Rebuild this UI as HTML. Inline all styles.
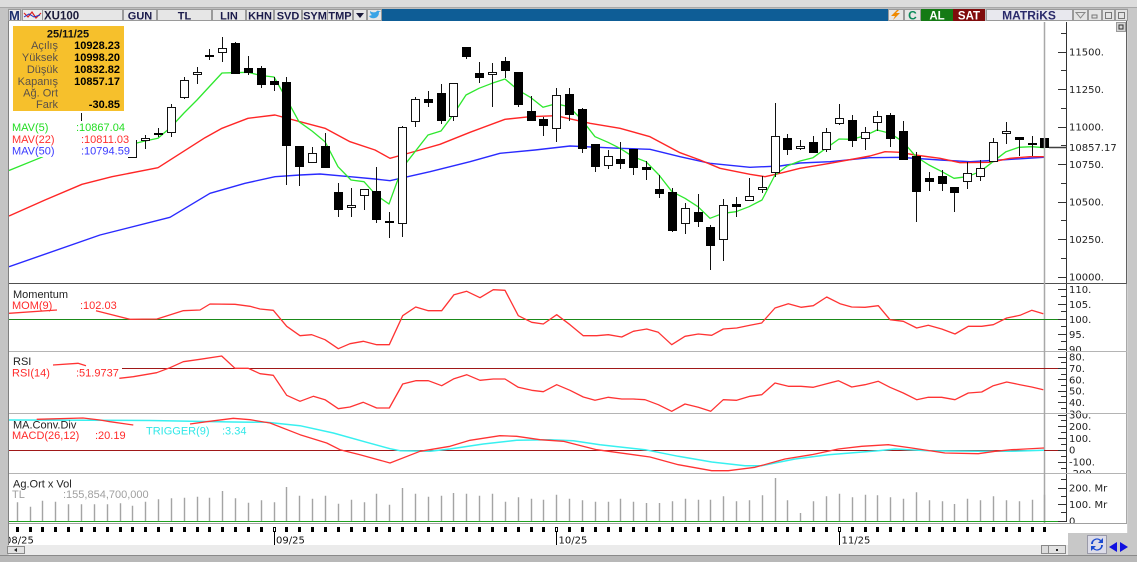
<!DOCTYPE html>
<html><head><meta charset="utf-8"><style>
html,body{margin:0;padding:0;width:1137px;height:562px;overflow:hidden;background:#d3d3d3}
svg{display:block}
</style></head><body>
<svg width="1137" height="562" viewBox="0 0 1137 562" xmlns="http://www.w3.org/2000/svg" font-family="'Liberation Sans', sans-serif">
<defs>
<clipPath id="cMain"><rect x="9" y="22" width="1041" height="261"/></clipPath>
<clipPath id="cMom"><rect x="9" y="284" width="1118" height="67"/></clipPath>
<clipPath id="cRsi"><rect x="9" y="352" width="1118" height="61"/></clipPath>
<clipPath id="cMacd"><rect x="9" y="414" width="1118" height="59"/></clipPath>
<clipPath id="cVol"><rect x="9" y="474" width="1118" height="49"/></clipPath>
<clipPath id="cDate"><rect x="9" y="524" width="1118" height="21"/></clipPath>
</defs>

<!-- frame -->
<rect x="0" y="0" width="1137" height="8" fill="#dcdcdc"/>
<line x1="0" y1="7.5" x2="1137" y2="7.5" stroke="#a8a8a8"/>
<rect x="0" y="8" width="8" height="554" fill="#c4c4c4"/>
<rect x="1128" y="8" width="9" height="554" fill="#c8c8c8"/>
<rect x="9" y="21" width="1118" height="524" fill="#ffffff"/>
<line x1="8.5" y1="21" x2="8.5" y2="545" stroke="#808080"/>
<rect x="9" y="545" width="1119" height="10" fill="#ebebeb"/>
<rect x="0" y="555" width="1137" height="7" fill="#b8b8b8"/>
<line x1="0" y1="555.5" x2="1137" y2="555.5" stroke="#8a8a8a"/>
<rect x="1068" y="533" width="60" height="22" fill="#c8c8c8"/>

<!-- toolbar -->
<rect x="8" y="8" width="1120" height="13" fill="#bdbdbd"/>
<rect x="8.5" y="9.5" width="12" height="11" fill="#ececec" stroke="#9a9a9a"/>
<text x="9" y="20" font-size="13" font-weight="bold" fill="#1c2f6e">M</text>
<rect x="22.5" y="9.5" width="20" height="11" fill="#ececec" stroke="#9a9a9a"/>
<polyline points="24,13 28,17 32,12 36,18 41,13" fill="none" stroke="#e02020" stroke-width="1.2"/>
<polyline points="24,17 29,14 34,17 40,15" fill="none" stroke="#2030c0" stroke-width="1"/>
<rect x="42.5" y="9.5" width="80" height="11" fill="#e6e6e6" stroke="#9a9a9a"/>
<text x="44" y="19.5" font-size="11.5" font-weight="bold" fill="#1a1a3a">XU100</text>
<g font-size="11" font-weight="bold" fill="#1b1b4b" text-anchor="middle">
<rect x="123.5" y="9.5" width="33" height="11" fill="#e6e6e6" stroke="#9a9a9a"/><text x="140" y="19.5">GUN</text>
<rect x="157.5" y="9.5" width="54" height="11" fill="#e6e6e6" stroke="#9a9a9a"/><text x="184.5" y="19.5">TL</text>
<rect x="212.5" y="9.5" width="33" height="11" fill="#e6e6e6" stroke="#9a9a9a"/><text x="229" y="19.5">LIN</text>
<rect x="246.5" y="9.5" width="27" height="11" fill="#e6e6e6" stroke="#9a9a9a"/><text x="260" y="19.5">KHN</text>
<rect x="274.5" y="9.5" width="27" height="11" fill="#e6e6e6" stroke="#9a9a9a"/><text x="288" y="19.5">SVD</text>
<rect x="302.5" y="9.5" width="25" height="11" fill="#e6e6e6" stroke="#9a9a9a"/><text x="315" y="19.5">SYM</text>
<rect x="327.5" y="9.5" width="25" height="11" fill="#e6e6e6" stroke="#9a9a9a"/><text x="340" y="19.5">TMP</text>
</g>
<rect x="353.5" y="9.5" width="13" height="11" fill="#e6e6e6" stroke="#9a9a9a"/>
<polygon points="356,13 364,13 360,18" fill="#1a1a3a"/>
<rect x="367.5" y="9.5" width="14" height="11" fill="#e6e6e6" stroke="#9a9a9a"/>
<path d="M369 16 Q371 19 375 18 Q379 17 379 12 L381 11 L379 11 Q377 10 376 12 Q372 13 370 11 Q370 14 372 15 Z" fill="#3aa4e6"/>
<rect x="382" y="9" width="506" height="12" fill="#0e5d96"/>
<rect x="888.5" y="9.5" width="15" height="11" fill="#e6e6e6" stroke="#9a9a9a"/>
<polygon points="897,10 891,16 895,16 893,20 900,13 896,13 899,10" fill="#f08a00"/>
<rect x="904.5" y="9.5" width="16" height="11" fill="#e6e6e6" stroke="#9a9a9a"/>
<text x="912.5" y="19.5" font-size="12" font-weight="bold" fill="#0a8a5a" text-anchor="middle">C</text>
<rect x="921" y="9" width="32" height="12" fill="#157a15"/>
<text x="937" y="19.5" font-size="11.5" font-weight="bold" fill="#ffffff" text-anchor="middle">AL</text>
<rect x="953" y="9" width="32" height="12" fill="#800c0c"/>
<text x="969" y="19.5" font-size="11.5" font-weight="bold" fill="#ffffff" text-anchor="middle">SAT</text>
<rect x="986.5" y="9.5" width="86" height="11" fill="#e8e8ee" stroke="#9a9a9a"/>
<text x="1029" y="19.5" font-size="12" font-weight="bold" fill="#2a2a6a" text-anchor="middle">MATRiKS</text>
<rect x="1073.5" y="9.5" width="14" height="11" fill="#e4e4e4" stroke="#9a9a9a"/>
<polygon points="1076,12.5 1085,12.5 1080.5,18" fill="none" stroke="#888"/>
<rect x="1088.5" y="9.5" width="13" height="11" fill="#e4e4e4" stroke="#9a9a9a"/>
<rect x="1092" y="15" width="5" height="3" fill="none" stroke="#777"/>
<rect x="1102.5" y="9.5" width="12" height="11" fill="#e4e4e4" stroke="#9a9a9a"/>
<rect x="1105.5" y="12.5" width="6" height="6" fill="none" stroke="#777"/>
<rect x="1115.5" y="9.5" width="12" height="11" fill="#e4e4e4" stroke="#9a9a9a"/>
<rect x="1118.5" y="12.5" width="6" height="6" fill="none" stroke="#777"/>

<!-- main panel -->
<g clip-path="url(#cMain)">
<!-- MA lines -->
<polyline fill="none" stroke="#2a2aff" stroke-width="1.4" stroke-linejoin="round" points="9,266.7 100,235 170,217.3 210,193.3 245,183.3 275,176.7 300,175 320,174 350,176.7 375,179 390,180.7 430,171.7 470,161.7 500,153.3 535,150 570,146 620,148.3 650,149.3 680,156.7 710,163.3 750,167.3 780,166 800,163 830,161.7 870,157.7 900,157.3 940,160 970,161.7 1000,160 1044,157.3"/>
<polyline fill="none" stroke="#ff2626" stroke-width="1.4" stroke-linejoin="round" points="9,216 45,200 82,184.3 112,176.7 158,167.7 205,137.7 222,128.3 248,118.3 275,115 300,121.7 325,128.3 350,141.7 375,150 390,158.3 402,155 420,150 440,144.3 470,132.3 505,119.3 530,116.7 556,115.7 590,123.3 620,128.3 650,136.7 680,152.7 700,160 720,168.3 750,174.3 765,176.7 780,173.3 800,168.3 830,163.3 870,156 885,151.7 900,152.3 915,155 940,158.3 960,162.7 990,162.3 1010,158.3 1030,156.7 1044,156.7"/>
<polyline fill="none" stroke="#2ee82e" stroke-width="1.3" points="9,170.5 43,156.7"/>
<polyline fill="none" stroke="#2ee82e" stroke-width="1.3" stroke-linejoin="round" points="136.7,143 145,141 158,138.3 171,127 184,113 197,100 209,87 222,73 248,72.3 261,75.5 274,77 286,98 299,121.7 312,131 325,141.7 338,166.7 351,180 364,181.7 376,195 389,204 402,168.3 415,151.7 428,135 441,131 453,115 466,95 479,88.3 492,83.3 505,79 518,90 531,97.7 543,107.3 556,103.7 569,106.7 582,120 595,136.7 608,142.3 620,148.3 633,156.7 646,161.7 659,175 672,191.7 685,198.3 698,206.7 710,218.3 723,213.3 736,211.7 749,206.7 762,200 775,175 787,166 800,161 813,157.7 826,148.3 839,139 852,139.3 865,135.7 877,130 890,133.3 903,141.7 916,156.7 929,165 942,171.7 954,178.3 967,176.7 980,171.7 993,161.7 1006,151.7 1019,147.3 1032,146.7 1044,147.7"/>
<!-- wicks -->
<path fill="none" stroke="#111" stroke-width="1" d="M145.5 135V149M158.5 128V137M171.5 104V137M184.5 77V99M197.5 67V84M209.5 49V60M222.5 37V62M235.5 42V74M248.5 56V75M261.5 66V88M274.5 77V91M286.5 77V185M299.5 146V186M312.5 147V163M325.5 133V168M338.5 183V217M351.5 188V217M364.5 189V210M376.5 167V223M389.5 212V238M402.5 126V237M415.5 97V127M428.5 91V107M441.5 84V124M453.5 83V121M466.5 47V59M479.5 62V83M492.5 63V107M505.5 57V78M518.5 72V107M531.5 96V121M543.5 117V136M556.5 88V142M569.5 88V121M582.5 108V153M595.5 144V172M608.5 150V169M620.5 142V169M633.5 149V175M646.5 161V180M659.5 175V198M672.5 188V232M685.5 203V234M698.5 194V227M710.5 225V270M723.5 199V261M736.5 197V217M749.5 178V201M762.5 176V193M775.5 103V177M787.5 134V155M800.5 140V150M813.5 136V153M826.5 128V152M839.5 104V125M852.5 115V147M865.5 127V150M877.5 111V131M890.5 113V147M903.5 121V160M916.5 152V222M929.5 172V191M942.5 170V191M954.5 187V212M967.5 162V189M980.5 160V181M993.5 138V162M1006.5 122V144M1019.5 137V156M1032.5 136V156M1044.5 127V152M81.5 113V122"/>
<!-- black bodies -->
<path fill="#000" d="M231 43h9v31h-9zM244 68h9v5h-9zM257 68h9v17h-9zM270 81h9v4h-9zM282 82h9v64h-9zM295 146h9v21h-9zM321 146h9v22h-9zM334 192h9v18h-9zM372 191h9v29h-9zM424 99h9v4h-9zM437 93h9v28h-9zM462 47h9v10h-9zM475 73h9v5h-9zM501 61h9v10h-9zM514 72h9v33h-9zM527 111h9v10h-9zM539 119h9v7h-9zM565 94h9v21h-9zM578 109h9v40h-9zM591 144h9v23h-9zM616 159h9v5h-9zM629 149h9v19h-9zM642 167h9v3h-9zM655 189h9v5h-9zM668 192h9v39h-9zM694 212h9v10h-9zM706 227h9v19h-9zM732 204h9v3h-9zM783 138h9v12h-9zM809 142h9v11h-9zM848 120h9v21h-9zM886 115h9v24h-9zM899 131h9v29h-9zM912 156h9v36h-9zM925 178h9v4h-9zM938 176h9v8h-9zM950 187h9v6h-9zM1015 137h9v3h-9zM1028 143h9v2h-9zM1040 138h9v10h-9zM154 133h9v2h-9zM205 55h9v2h-9zM385 221h9v2h-9z"/>
<!-- white bodies -->
<g fill="#fff" stroke="#111" stroke-width="1">
<rect x="128.5" y="140.5" width="8" height="17"/>
<rect x="141.5" y="138.5" width="8" height="2"/>
<rect x="167.5" y="107.5" width="8" height="25"/>
<rect x="180.5" y="80.5" width="8" height="17"/>
<rect x="193.5" y="72.5" width="8" height="2"/>
<rect x="218.5" y="48.5" width="8" height="4"/>
<rect x="308.5" y="153.5" width="8" height="9"/>
<rect x="347.5" y="205.5" width="8" height="2"/>
<rect x="360.5" y="189.5" width="8" height="6"/>
<rect x="398.5" y="127.5" width="8" height="96"/>
<rect x="411.5" y="99.5" width="8" height="22"/>
<rect x="449.5" y="83.5" width="8" height="33"/>
<rect x="488.5" y="72.5" width="8" height="2"/>
<rect x="552.5" y="95.5" width="8" height="33"/>
<rect x="604.5" y="156.5" width="8" height="9"/>
<rect x="681.5" y="208.5" width="8" height="15"/>
<rect x="719.5" y="205.5" width="8" height="34"/>
<rect x="745.5" y="196.5" width="8" height="4"/>
<rect x="758.5" y="187.5" width="8" height="2"/>
<rect x="771.5" y="136.5" width="8" height="36"/>
<rect x="796.5" y="146.5" width="8" height="2"/>
<rect x="822.5" y="132.5" width="8" height="17"/>
<rect x="835.5" y="118.5" width="8" height="5"/>
<rect x="861.5" y="132.5" width="8" height="6"/>
<rect x="873.5" y="116.5" width="8" height="6"/>
<rect x="963.5" y="173.5" width="8" height="8"/>
<rect x="976.5" y="168.5" width="8" height="8"/>
<rect x="989.5" y="142.5" width="8" height="19"/>
<rect x="1002.5" y="131.5" width="8" height="2"/>
</g>
</g>

<!-- info box -->
<rect x="13" y="26" width="111" height="85" fill="#f6c02c"/>
<text x="68" y="37.5" font-size="11" font-weight="bold" fill="#111" text-anchor="middle">25/11/25</text>
<g font-size="11" fill="#5a5048" text-anchor="end">
<text x="58" y="49">Açılış</text>
<text x="58" y="61">Yüksek</text>
<text x="58" y="73">Düşük</text>
<text x="58" y="85">Kapanış</text>
<text x="58" y="96.7">Ağ. Ort</text>
<text x="58" y="108">Fark</text>
</g>
<g font-size="11" font-weight="bold" fill="#000" text-anchor="end">
<text x="120" y="49">10928.23</text>
<text x="120" y="61">10998.20</text>
<text x="120" y="73">10832.82</text>
<text x="120" y="85">10857.17</text>
<text x="120" y="108">-30.85</text>
</g>

<!-- legend -->
<rect x="9" y="121" width="127" height="36" fill="#fff"/>
<g font-size="11">
<text x="12" y="131" fill="#22dd22">MAV(5)</text><text x="76" y="131" fill="#22dd22">:10867.04</text>
<text x="12" y="143" fill="#ff3030">MAV(22)</text><text x="81" y="143" fill="#ff3030">:10811.03</text>
<text x="12" y="154.5" fill="#3a3aff">MAV(50)</text><text x="81" y="154.5" fill="#3a3aff">:10794.59</text>
</g>

<!-- main border & separators -->
<line x1="9" y1="283.5" x2="1127" y2="283.5" stroke="#505050"/>
<line x1="1126.5" y1="21" x2="1126.5" y2="284" stroke="#606060"/>
<line x1="1126.5" y1="284" x2="1126.5" y2="524" stroke="#a8a8a8"/>
<line x1="9" y1="351.5" x2="1127" y2="351.5" stroke="#b4b4b4"/>
<line x1="9" y1="413.5" x2="1127" y2="413.5" stroke="#b4b4b4"/>
<line x1="9" y1="473.5" x2="1127" y2="473.5" stroke="#b4b4b4"/>
<line x1="9" y1="523.5" x2="1127" y2="523.5" stroke="#a0a0a0"/>
<line x1="1044.5" y1="22" x2="1044.5" y2="523" stroke="#a8a8a8" stroke-width="1.5"/>

<!-- main axis -->
<line x1="1066.5" y1="22" x2="1066.5" y2="283" stroke="#333"/>
<path stroke="#333" d="M1058 52.5H1066M1058 89.5H1066M1058 127.5H1066M1058 164.5H1066M1058 202.5H1066M1058 239.5H1066M1058 277.5H1066M1061 33.5H1066M1061 70.5H1066M1061 108.5H1066M1061 145.5H1066M1061 183.5H1066M1061 220.5H1066M1061 258.5H1066"/>
<g font-family="'DejaVu Sans', sans-serif" font-size="10" fill="#222">
<text x="1069" y="55.6">11500.</text>
<text x="1069" y="93.1">11250.</text>
<text x="1069" y="130.6">11000.</text>
<text x="1069" y="168.1">10750.</text>
<text x="1069" y="205.6">10500.</text>
<text x="1069" y="243.1">10250.</text>
<text x="1069" y="280.6">10000.</text>
<text x="1069" y="151">10857.17</text>
</g>
<line x1="1049" y1="147.5" x2="1067" y2="147.5" stroke="#404040" stroke-width="1.5"/>
<rect x="1116.5" y="22.5" width="9" height="9" fill="#d4d4d4" stroke="#9a9a9a"/>
<rect x="1119" y="25" width="4" height="4" fill="none" stroke="#333"/>

<!-- Momentum panel -->
<line x1="9" y1="319.5" x2="1066" y2="319.5" stroke="#1a8a1a"/>
<g fill="none" stroke="#ff3333" stroke-width="1.3" stroke-linejoin="round">
<polyline points="9,313.3 57,310"/>
<polyline points="96,310.7 130,319.3 157,319 183,310.7 200,310 210,304 235,304.3 250,306.3 260,309 273.3,310.3 286.7,326.3 300,335.7 311.7,334.7 325,339.7 338.3,348.7 350,343.7 363.3,341.3 376.7,344.7 389.3,344.7 402.7,315.7 415.7,307 428.3,310.7 441.7,310.7 454,294.7 466.7,291.3 480,297.7 493.3,289.7 505,290.3 518.3,315.7 531.7,322.3 543.3,324 556.7,314.7 570,324.7 583.3,335.7 596.7,335.7 608.3,334.7 621.7,337 633.3,331.3 646.7,329 658.3,332.3 671.7,344.7 685,336.3 698.3,334 711.7,335.3 723.3,329 736.7,328 750,325.3 761.7,323 775,308 788.3,303.7 801,307.3 813.3,305.7 826.7,297 840,303.7 851.7,307 865,307.3 878.3,305.7 890,319.7 903.3,321.3 916.7,328 928.3,325.3 941.7,329 955,334 968.3,326.3 981.7,326.3 993.3,324.7 1006.7,318 1020,315.3 1031.7,310.3 1043.3,313.7"/>
</g>
<text x="13" y="298" font-size="11" fill="#222">Momentum</text>
<text x="12" y="309" font-size="11" fill="#ff2a2a">MOM(9)</text>
<text x="80" y="309" font-size="11" fill="#ff2a2a">:102.03</text>
<line x1="1066.5" y1="284" x2="1066.5" y2="351" stroke="#333"/>
<path stroke="#333" d="M1058 289.5H1066M1058 304.5H1066M1058 319.5H1066M1058 334.5H1066M1058 349.5H1066M1061 296.5H1066M1061 311.5H1066M1061 326.5H1066M1061 341.5H1066"/>
<g clip-path="url(#cMom)" font-family="'DejaVu Sans', sans-serif" font-size="10" fill="#222">
<text x="1069" y="293">110.</text><text x="1069" y="308">105.</text><text x="1069" y="323">100.</text><text x="1069" y="338">95.</text><text x="1069" y="353">90.</text>
</g>

<!-- RSI panel -->
<line x1="122" y1="368.5" x2="1066" y2="368.5" stroke="#a01818"/>
<g fill="none" stroke="#ff3333" stroke-width="1.3" stroke-linejoin="round">
<polyline points="53,365 78,363.3 86,365.7"/>
<polyline points="119.3,378.3 133.3,376.7 156.7,372.7 170,367.7 183.3,361.7 200,359.3 221.7,356 235,368.3 248.3,368.3 260,373.7 273.3,375.3 286.7,395.3 300,401.3 313.3,396.3 325,399.7 338.3,408.7 350,407 363.3,402.3 376.7,408 389.3,408 402.7,384 415.7,380.7 428.3,380.7 441.7,385.7 454,378.7 466.7,374.7 480,380.3 493.3,379 505,379 518.3,387.3 531.7,390.3 543.3,391.7 556.7,384.7 570,390.3 583.3,397 595,400.3 608.3,397.3 621.7,399 633.3,399 645,399.7 658.3,404.7 671.7,411.3 685,404 698.3,407.3 710.7,411.3 723.3,399.7 736.7,400.3 750,396.3 761.7,394.7 775,383 788.3,386.3 801,386.3 813.3,387.3 826.7,383.7 838.3,380.7 851.7,387 865,384.7 878.3,381.3 890,387.3 903.3,393 916.7,399.7 928.3,397.3 941.7,397.3 955,399.7 968.3,393 981.7,392 993.3,385.7 1006.7,382 1020,384.7 1031.7,387 1043.3,389.7"/>
</g>
<text x="13" y="365" font-size="11" fill="#222">RSI</text>
<text x="12" y="376.7" font-size="11" fill="#ff2a2a">RSI(14)</text>
<text x="76" y="376.7" font-size="11" fill="#ff2a2a">:51.9737</text>
<line x1="1066.5" y1="352" x2="1066.5" y2="413" stroke="#333"/>
<path stroke="#333" d="M1058 357.5H1066M1058 368.5H1066M1058 379.5H1066M1058 391.5H1066M1058 402.5H1066M1061 362.5H1066M1061 374.5H1066M1061 385.5H1066M1061 396.5H1066M1061 408.5H1066"/>
<g clip-path="url(#cRsi)" font-family="'DejaVu Sans', sans-serif" font-size="10" fill="#222">
<text x="1069" y="360.6">80.</text><text x="1069" y="371.9">70.</text><text x="1069" y="383.3">60.</text><text x="1069" y="394.6">50.</text><text x="1069" y="405.9">40.</text><text x="1069" y="417.3">30.</text>
</g>

<!-- MACD panel -->
<line x1="9" y1="450.5" x2="1066" y2="450.5" stroke="#a01818"/>
<polyline fill="none" stroke="#38f0f0" stroke-width="1.5" stroke-linejoin="round" points="9,420 150,420.5 233,422 266.7,422.3 300,425.7 333.3,433 366.7,442.3 390,448.7 400,450.7 430,451.3 450,449 483.3,444 516.7,440.3 550,439.7 573.3,440.7 600,444.7 645,449.7 678.3,456.3 711.7,462 745,465.7 761.7,465.7 795,459 828.3,454.7 878.3,450.7 895,449 928.3,450.7 978.3,451.3 1011.7,451.3 1044,450.3"/>
<g fill="none" stroke="#ff3333" stroke-width="1.3" stroke-linejoin="round">
<polyline points="36.7,419.3 83,418 100,420 110,421.7 133.3,425"/>
<polyline points="190,424 206.7,421.7 233.3,418.3 250,419.7 270,423 300,434.7 326.7,443 340,449.7 360,454.7 390,463 420,451.3 450,446.3 470,440.3 500,435.7 516.7,436.3 540,439.7 563.3,441.3 596.7,449.7 650,457 678.3,464.7 711.7,470.7 728.3,470.7 755,467.3 785,459 811.7,454.7 838.3,449 861.7,446.3 888.3,444.7 911.7,448 945,453 978.3,453.7 995,451.3 1011.7,449.7 1044,448"/>
</g>
<text x="13" y="428.3" font-size="11" fill="#222">MA.Conv.Div</text>
<text x="12" y="439" font-size="11" fill="#ff2a2a">MACD(26,12)</text>
<text x="95" y="439" font-size="11" fill="#ff2a2a">:20.19</text>
<text x="146" y="434.7" font-size="11" fill="#30e8e8">TRIGGER(9)</text>
<text x="222" y="434.7" font-size="11" fill="#30e8e8">:3.34</text>
<line x1="1066.5" y1="414" x2="1066.5" y2="473" stroke="#333"/>
<path stroke="#333" d="M1058 415.5H1066M1058 426.5H1066M1058 438.5H1066M1058 450.5H1066M1058 462.5H1066M1061 420.5H1066M1061 432.5H1066M1061 444.5H1066M1061 456.5H1066M1061 468.5H1066"/>
<g clip-path="url(#cMacd)" font-family="'DejaVu Sans', sans-serif" font-size="10" fill="#222">
<text x="1069" y="418.6">300.</text><text x="1069" y="430">200.</text><text x="1069" y="441.9">100.</text><text x="1069" y="453.6">0</text><text x="1069" y="465.5">-100.</text><text x="1069" y="477">-200.</text>
</g>

<!-- Volume panel -->
<path stroke="#a4a4a4" stroke-width="1.4" d="M17.5 502.3V521M30.5 506.7V521M42.5 500.7V521M55.5 501.7V521M68.5 504.3V521M81.5 504.3V521M94.5 504.3V521M107.5 504.3V521M120.5 503.3V521M132.5 505.7V521M145.5 501.7V521M158.5 499.3V521M171.5 498.3V521M184.5 497.7V521M197.5 496.7V521M209.5 497.7V521M222.5 491V521M235.5 498.3V521M248.5 502.7V521M261.5 500.3V521M274.5 502.3V521M286.5 487V521M299.5 495.7V521M312.5 498.7V521M325.5 495.7V521M338.5 503.7V521M351.5 499.7V521M364.5 502.3V521M376.5 493.7V521M389.5 504.7V521M402.5 488V521M415.5 493.7V521M428.5 496.7V521M441.5 495.7V521M453.5 493V521M466.5 493.7V521M479.5 495.7V521M492.5 493.7V521M505.5 501.7V521M518.5 497.3V521M531.5 498.7V521M543.5 499.7V521M556.5 494.7V521M569.5 498.7V521M582.5 500.3V521M595.5 501.7V521M608.5 501.7V521M620.5 498.7V521M633.5 501.7V521M646.5 503V521M659.5 503V521M672.5 501.3V521M685.5 498.7V521M698.5 499.7V521M710.5 499.7V521M723.5 496.3V521M736.5 501.3V521M749.5 500.3V521M762.5 495.3V521M775.5 478V521M787.5 500.3V521M800.5 513V521M813.5 501.3V521M826.5 496.3V521M839.5 493.7V521M852.5 497.3V521M865.5 494.7V521M877.5 495.3V521M890.5 497.3V521M903.5 498.7V521M916.5 492.3V521M929.5 500.3V521M942.5 501.3V521M954.5 504V521M967.5 498.7V521M980.5 500.3V521M993.5 496.3V521M1006.5 500.3V521M1019.5 501.3V521M1032.5 499.7V521M1044.5 494.7V521"/>
<line x1="9" y1="521.5" x2="1066" y2="521.5" stroke="#20a020"/>
<text x="13" y="487.3" font-size="11" fill="#222">Ag.Ort x Vol</text>
<text x="12" y="498" font-size="11" fill="#a0a0a0">TL</text>
<text x="63" y="498" font-size="11" fill="#a0a0a0">:155,854,700,000</text>
<line x1="1066.5" y1="474" x2="1066.5" y2="522" stroke="#333"/>
<path stroke="#333" d="M1058 488.5H1066M1058 504.5H1066M1058 521.5H1066M1061 479.5H1066M1061 496.5H1066M1061 512.5H1066"/>
<g clip-path="url(#cVol)" font-family="'DejaVu Sans', sans-serif" font-size="10" fill="#222">
<text x="1069" y="491.6">200. Mr</text><text x="1069" y="508.1">100. Mr</text><text x="1069" y="524.6">0</text>
</g>

<!-- date axis -->
<path fill="#000" d="M16 527h3v5h-3zM29 527h3v5h-3zM41 527h3v5h-3zM54 527h3v5h-3zM67 527h3v5h-3zM80 527h3v5h-3zM93 527h3v5h-3zM106 527h3v5h-3zM119 527h3v5h-3zM131 527h3v5h-3zM144 527h3v5h-3zM157 527h3v5h-3zM170 527h3v5h-3zM183 527h3v5h-3zM196 527h3v5h-3zM208 527h3v5h-3zM221 527h3v5h-3zM234 527h3v5h-3zM247 527h3v5h-3zM260 527h3v5h-3zM285 527h3v5h-3zM298 527h3v5h-3zM311 527h3v5h-3zM324 527h3v5h-3zM337 527h3v5h-3zM350 527h3v5h-3zM363 527h3v5h-3zM375 527h3v5h-3zM388 527h3v5h-3zM401 527h3v5h-3zM414 527h3v5h-3zM427 527h3v5h-3zM440 527h3v5h-3zM452 527h3v5h-3zM465 527h3v5h-3zM478 527h3v5h-3zM491 527h3v5h-3zM504 527h3v5h-3zM517 527h3v5h-3zM530 527h3v5h-3zM542 527h3v5h-3zM568 527h3v5h-3zM581 527h3v5h-3zM594 527h3v5h-3zM607 527h3v5h-3zM619 527h3v5h-3zM632 527h3v5h-3zM645 527h3v5h-3zM658 527h3v5h-3zM671 527h3v5h-3zM684 527h3v5h-3zM697 527h3v5h-3zM709 527h3v5h-3zM722 527h3v5h-3zM735 527h3v5h-3zM748 527h3v5h-3zM761 527h3v5h-3zM774 527h3v5h-3zM786 527h3v5h-3zM799 527h3v5h-3zM812 527h3v5h-3zM825 527h3v5h-3zM851 527h3v5h-3zM864 527h3v5h-3zM876 527h3v5h-3zM889 527h3v5h-3zM902 527h3v5h-3zM915 527h3v5h-3zM928 527h3v5h-3zM941 527h3v5h-3zM953 527h3v5h-3zM966 527h3v5h-3zM979 527h3v5h-3zM992 527h3v5h-3zM1005 527h3v5h-3zM1018 527h3v5h-3zM1031 527h3v5h-3zM1043 527h3v5h-3z"/>
<g fill="none" stroke="#000">
<rect x="273.5" y="527.5" width="2" height="4"/>
<rect x="555.5" y="527.5" width="2" height="4"/>
<rect x="838.5" y="527.5" width="2" height="4"/>
<path d="M274.5 532V545M556.5 532V545M839.5 532V545"/>
</g>
<g clip-path="url(#cDate)" font-family="'DejaVu Sans', sans-serif" font-size="10" fill="#111">
<text x="5" y="543.5">08/25</text>
<text x="276" y="543.5">09/25</text>
<text x="558.5" y="543.5">10/25</text>
<text x="841.5" y="543.5">11/25</text>
</g>

<!-- scrollbar & bottom controls -->
<rect x="7.5" y="546.5" width="17" height="7" fill="#e2e2e2" stroke="#8a8a8a"/>
<polygon points="14,550 17,548 17,552" fill="#222"/>
<rect x="1041.5" y="545.5" width="7" height="8" fill="#dcdcdc" stroke="#8a8a8a"/>
<rect x="1048.5" y="545.5" width="17" height="8" fill="#e2e2e2" stroke="#8a8a8a"/>
<rect x="1056" y="549" width="2" height="2" fill="#222"/>
<rect x="1087.5" y="535.5" width="19" height="18" fill="#dcdce8" stroke="#9a9aa8"/>
<path d="M1091 544 A6 6 0 0 1 1101 540 L1103 538 L1103 543 L1098 543 L1100 541 A4 4 0 0 0 1093 544 Z" fill="#1a4ad0"/>
<path d="M1103 545 A6 6 0 0 1 1093 549 L1091 551 L1091 546 L1096 546 L1094 548 A4 4 0 0 0 1101 545 Z" fill="#1a4ad0"/>
<polygon points="1109,547 1117,542 1117,552" fill="#1010e0"/>
<polygon points="1128,547 1120,542 1120,552" fill="#1010e0"/>
</svg>
</body></html>
